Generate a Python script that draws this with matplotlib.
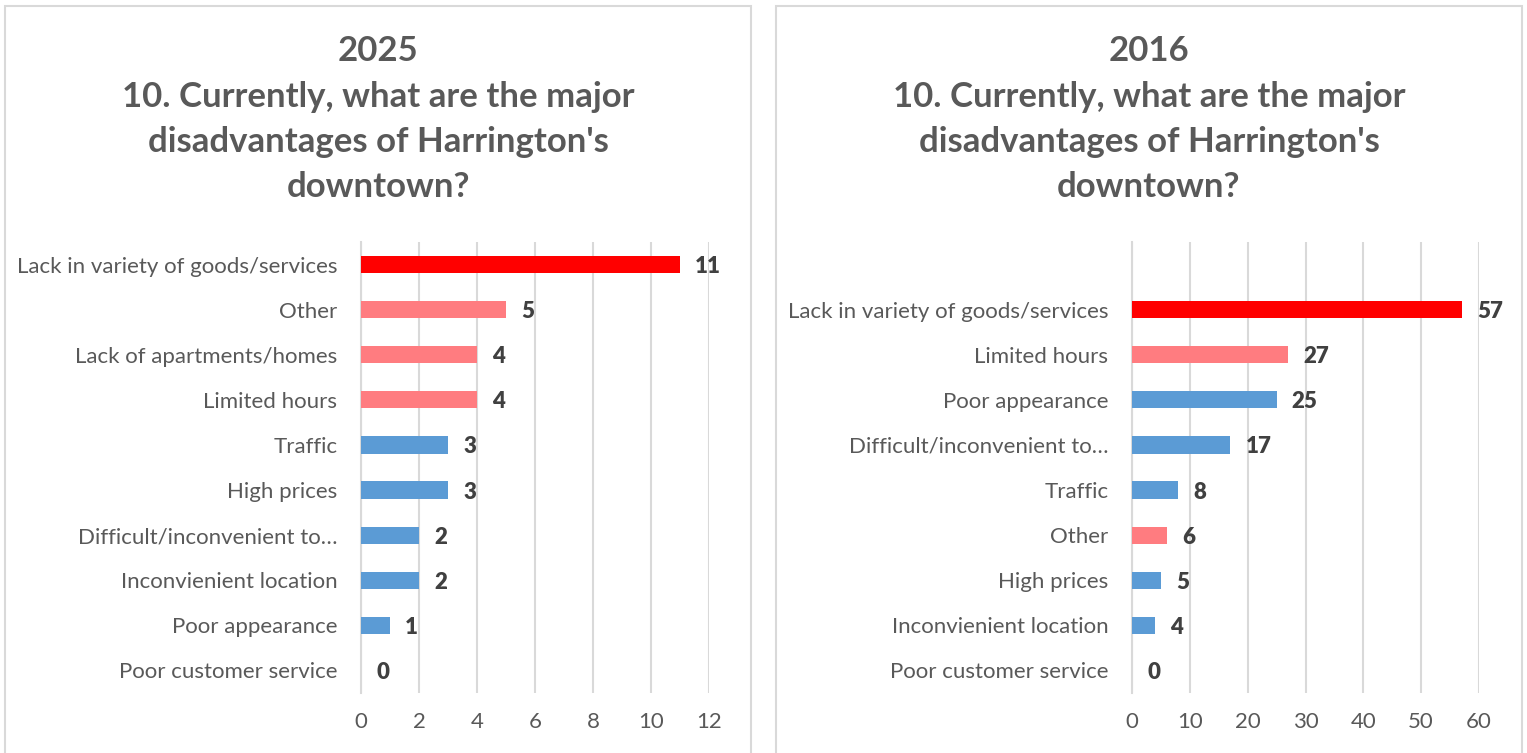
import matplotlib.pyplot as plt
from matplotlib.patches import Rectangle

plt.rcParams['font.family'] = ['Lato', 'DejaVu Sans']

# Survey question 10 results, ordered top to bottom
cats_2025 = ['Lack in variety of goods/services', 'Other', 'Lack of apartments/homes',
             'Limited hours', 'Traffic', 'High prices', 'Difficult/inconvenient to\u2026',
             'Inconvienient location', 'Poor appearance', 'Poor customer service']
vals_2025 = [11, 5, 4, 4, 3, 3, 2, 2, 1, 0]

cats_2016 = ['Lack in variety of goods/services', 'Limited hours', 'Poor appearance',
             'Difficult/inconvenient to\u2026', 'Traffic', 'Other', 'High prices',
             'Inconvienient location', 'Poor customer service']
vals_2016 = [57, 27, 25, 17, 8, 6, 5, 4, 0]

TITLE_LINES = ['10. Currently, what are the major', "disadvantages of Harrington's", 'downtown?']

RED = '#FF0000'
PINK = '#FF7C80'
BLUE = '#5B9BD5'
TEXT = '#595959'
GRID = '#D9D9D9'
PINK_CATS = {'Other', 'Lack of apartments/homes', 'Limited hours'}


def bar_color(i, cat):
    if i == 0:
        return RED
    if cat in PINK_CATS:
        return PINK
    return BLUE


def draw_panel(fig, rect, year, cats, vals, xmax, xstep, nslots, box_x, title_x):
    # light grey frame round each chart
    fig.patches.append(Rectangle((box_x, -0.05), 746 / 1527, 0.05 + (753 - 6) / 753,
                                 transform=fig.transFigure, fill=False,
                                 edgecolor=GRID, linewidth=1.5))
    line_ys = [51, 97, 142, 187]
    for txt, py in zip([year] + TITLE_LINES, line_ys):
        fig.text(title_x, 1 - py / 753, txt, ha='center', va='center',
                 fontsize=25, fontweight='bold', color=TEXT)

    ax = fig.add_axes(rect)
    pos = list(range(len(cats)))
    colors = [bar_color(i, c) for i, c in enumerate(cats)]
    ax.barh(pos, vals, height=0.38, color=colors, zorder=3)
    for p, v in zip(pos, vals):
        ax.annotate(str(v), (v, p), xytext=(11, 0), textcoords='offset points',
                    ha='left', va='center_baseline', fontsize=16, fontweight='heavy',
                    color='#404040')
    ax.set_xlim(0, xmax)
    ax.set_ylim(len(cats) - 0.5, len(cats) - 0.5 - nslots)
    ax.set_yticks(pos)
    ax.set_yticklabels(cats)
    ax.set_xticks(range(0, xmax + 1, xstep))
    ax.tick_params(axis='both', length=0, labelsize=16, labelcolor=TEXT)
    ax.tick_params(axis='y', pad=17)
    ax.tick_params(axis='x', pad=14)
    ax.grid(axis='x', color=GRID, linewidth=1.5, zorder=0)
    for s in ['top', 'right', 'bottom']:
        ax.spines[s].set_visible(False)
    ax.spines['left'].set_color(GRID)
    ax.spines['left'].set_linewidth(1.5)
    ax.set_facecolor('none')
    return ax


fig = plt.figure(figsize=(15.27, 7.53), dpi=100)

bottom = 1 - 693 / 753
height = (693 - 242) / 753
draw_panel(fig, [361 / 1527, bottom, 348 / 1527, height], '2025',
           cats_2025, vals_2025, 12, 2, 10, 5 / 1527, 378 / 1527)
draw_panel(fig, [1132 / 1527, bottom, 347 / 1527, height], '2016',
           cats_2016, vals_2016, 60, 10, 10, 776 / 1527, 1149 / 1527)

fig.savefig('out.png', dpi=100)
